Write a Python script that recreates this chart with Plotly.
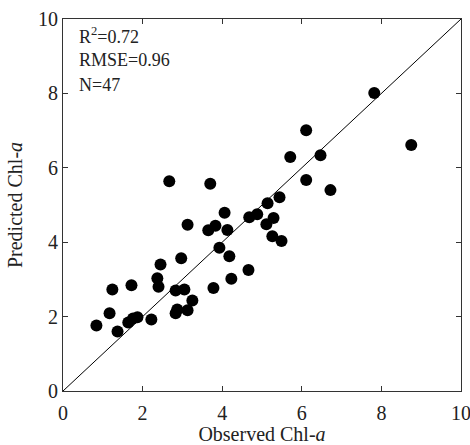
import plotly.graph_objects as go

observed = [0.84, 1.17, 1.24, 1.37, 1.64, 1.72, 1.76, 1.87, 2.22, 2.37, 2.40, 2.45, 2.67,
            2.83, 2.83, 2.87, 2.97, 3.05, 3.13, 3.25, 3.13, 3.65, 3.70, 3.78, 3.83, 3.93,
            4.06, 4.13, 4.18, 4.23, 4.66, 4.68, 4.88, 5.11, 5.14, 5.26, 5.29, 5.44, 5.49,
            5.71, 6.11, 6.11, 6.47, 6.72, 7.82, 8.75]
predicted = [1.76, 2.09, 2.73, 1.60, 1.84, 2.84, 1.95, 1.98, 1.92, 3.03, 2.80, 3.40, 5.64,
             2.70, 2.09, 2.19, 3.57, 2.73, 2.17, 2.43, 4.47, 4.32, 5.57, 2.77, 4.44, 3.85,
             4.79, 4.33, 3.62, 3.02, 3.25, 4.67, 4.75, 4.48, 5.05, 4.16, 4.65, 5.21, 4.03,
             6.29, 5.67, 7.01, 6.34, 5.40, 8.01, 6.61]
stats_text = ["R<sup>2</sup>=0.72", "RMSE=0.96", "N=47"]
tick_vals = [0, 2, 4, 6, 8, 10]

FONT = "Liberation Serif, Times New Roman, serif"

fig = go.Figure()
fig.add_trace(go.Scatter(x=[0, 10], y=[0, 10], mode="lines",
                         line=dict(color="black", width=1), hoverinfo="skip",
                         showlegend=False))
fig.add_trace(go.Scatter(x=observed, y=predicted, mode="markers",
                         marker=dict(color="black", size=12, line=dict(width=0)),
                         showlegend=False))

axis_common = dict(range=[0, 10], tickvals=tick_vals, ticks="inside", ticklen=5,
                   tickwidth=1, tickcolor="#333", showline=True, linecolor="#333",
                   linewidth=1, mirror="ticks", showgrid=False, zeroline=False,
                   automargin=False, ticklabeloverflow="allow",
                   tickfont=dict(family=FONT, size=20, color="#222"))

fig.update_xaxes(**axis_common, ticklabelstandoff=4,
                 title=dict(text="Observed Chl-<i>a</i>", standoff=9,
                            font=dict(family=FONT, size=20, color="#222")))
fig.update_yaxes(**axis_common,
                 title=dict(text="Predicted Chl-<i>a</i>", standoff=10,
                            font=dict(family=FONT, size=20, color="#222")))

for i, t in enumerate(stats_text):
    fig.add_annotation(x=0.035, y=0.955 - i * 0.066, xref="paper", yref="paper",
                       text=t, showarrow=False, xanchor="left", yanchor="middle",
                       font=dict(family=FONT, size=18, color="#222"))

fig.update_layout(width=470, height=445, margin=dict(l=63, r=9, t=19, b=54),
                  plot_bgcolor="white", paper_bgcolor="white")

fig.write_html("out.html")
